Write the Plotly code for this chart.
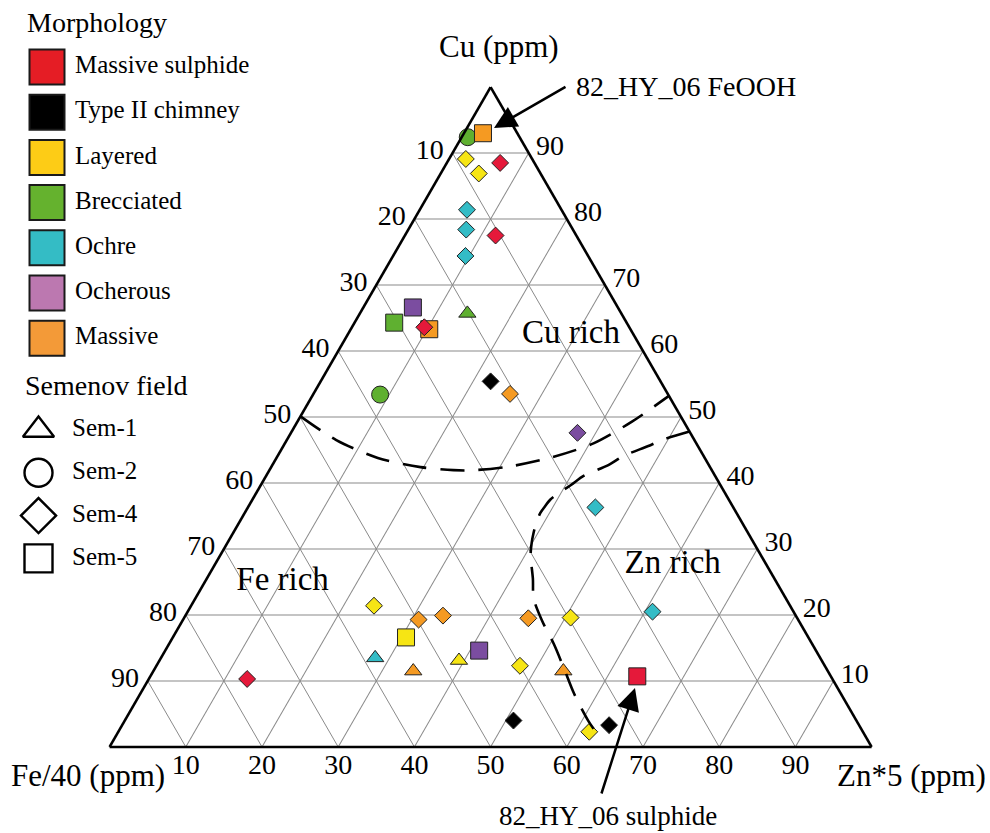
import plotly.graph_objects as go

# ---------------------------------------------------------------------------
# Sample compositions, normalised to 100: Cu, Zn*5 and Fe/40 (the remainder)
# ---------------------------------------------------------------------------
cu = [92.4, 93.0, 89.1, 88.5, 86.9, 81.4, 78.4, 77.5, 74.4, 66.6,
      65.7, 64.3, 63.6, 63.3, 53.4, 55.4, 53.5, 47.6, 36.3, 21.4,
      19.3, 16.6, 13.5, 11.5, 10.3, 19.9, 19.5, 19.6, 20.5, 13.1,
      14.6, 12.3, 11.5, 10.7, 4.0, 2.3, 3.3]
zn = [0.8, 2.5, 2.2, 7.0, 5.0, 6.2, 7.6, 11.9, 9.5, 6.5,
      14.1, 5.2, 9.5, 10.3, 8.8, 22.3, 25.8, 37.6, 45.6, 24.0,
      30.9, 30.6, 28.1, 34.1, 12.9, 33.8, 45.2, 50.7, 61.0, 39.3,
      41.2, 47.7, 53.8, 63.9, 51.0, 61.8, 63.9]
fe = [round(100 - a - c, 1) for a, c in zip(cu, zn)]

morphology = ["Brecciated", "Massive", "Layered", "Massive sulphide", "Layered",
              "Ochre", "Ochre", "Massive sulphide", "Ochre", "Ocherous",
              "Brecciated", "Brecciated", "Massive sulphide", "Massive", "Brecciated",
              "Type II chimney", "Massive", "Ocherous", "Ochre", "Layered",
              "Massive", "Layered", "Ochre", "Massive", "Massive sulphide",
              "Massive", "Massive", "Layered", "Ochre", "Layered",
              "Ocherous", "Layered", "Massive", "Massive sulphide", "Type II chimney",
              "Layered", "Type II chimney"]
semenov = ["Sem-2", "Sem-5", "Sem-4", "Sem-4", "Sem-4",
           "Sem-4", "Sem-4", "Sem-4", "Sem-4", "Sem-5",
           "Sem-1", "Sem-5", "Sem-4", "Sem-5", "Sem-2",
           "Sem-4", "Sem-4", "Sem-4", "Sem-4", "Sem-4",
           "Sem-4", "Sem-5", "Sem-1", "Sem-1", "Sem-4",
           "Sem-4", "Sem-4", "Sem-4", "Sem-4", "Sem-1",
           "Sem-5", "Sem-4", "Sem-1", "Sem-5", "Sem-4",
           "Sem-4", "Sem-4"]

# Legend categories
morph_names = ["Massive sulphide", "Type II chimney", "Layered", "Brecciated",
               "Ochre", "Ocherous", "Massive"]
swatch_colors = ["#E51D25", "#000000", "#FDCC16", "#65B22E", "#34BCC5", "#BC78B0", "#F39A38"]
marker_colors = {"Massive sulphide": "#E5193A", "Type II chimney": "#000000",
                 "Layered": "#F6E514", "Brecciated": "#5FB030", "Ochre": "#33BCC6",
                 "Ocherous": "#7B4DA0", "Massive": "#F59A22"}
sem_names = ["Sem-1", "Sem-2", "Sem-4", "Sem-5"]
sem_symbols = {"Sem-1": "triangle-up", "Sem-2": "circle", "Sem-4": "diamond", "Sem-5": "square"}
sem_sizes = {"Sem-1": 15, "Sem-2": 17, "Sem-4": 13, "Sem-5": 17}
draw_order = ["Brecciated", "Ochre", "Layered", "Ocherous", "Type II chimney",
              "Massive", "Massive sulphide"]

# Field boundaries (Cu, Zn*5)
bound1_cu = [50.1, 46.5, 43.8, 42.4, 41.9, 42.5, 43.9, 46.0, 49.3, 53.2]
bound1_zn = [0.0, 6.5, 13.3, 19.6, 25.7, 31.2, 36.1, 40.5, 43.9, 46.8]
bound2_cu = [47.8, 46.5, 45.6, 44.1, 42.7, 41.1, 39.7, 38.7, 37.5, 36.4, 35.5,
             34.0, 32.5, 31.0, 29.1, 25.5, 22.5, 19.0, 15.6, 12.0, 8.1, 4.0, 1.8]
bound2_zn = [52.2, 49.2, 47.9, 45.4, 44.1, 41.7, 40.7, 39.9, 39.1, 38.9, 38.8,
             39.0, 39.4, 39.9, 40.7, 42.8, 44.4, 47.3, 50.5, 53.6, 56.9, 60.8, 63.2]

# Field labels (Cu, Zn*5)
field_labels = ["Cu rich", "Fe rich", "Zn rich"]
field_cu = [62.5, 25.0, 27.6]
field_zn = [29.3, 10.2, 60.1]

grid_ticks = [10, 20, 30, 40, 50, 60, 70, 80, 90]

SERIF = "Liberation Serif"
W, H = 990, 833


def px(x):
    return x / W


def py(y):
    return 1 - y / H


fig = go.Figure()

# Samples, one trace per morphology
for name in draw_order:
    idx = [i for i, m in enumerate(morphology) if m == name]
    fig.add_trace(go.Scatterternary(
        a=[cu[i] for i in idx], b=[fe[i] for i in idx], c=[zn[i] for i in idx],
        mode="markers", cliponaxis=False, showlegend=False, name=name,
        marker=dict(color=marker_colors[name], opacity=1,
                    symbol=[sem_symbols[semenov[i]] for i in idx],
                    size=[sem_sizes[semenov[i]] for i in idx],
                    line=dict(color="#222222", width=1)),
    ))

# Dashed field boundaries
for bcu, bzn in [(bound1_cu, bound1_zn), (bound2_cu, bound2_zn)]:
    fig.add_trace(go.Scatterternary(
        a=bcu, b=[round(100 - a - c, 1) for a, c in zip(bcu, bzn)], c=bzn,
        mode="lines", cliponaxis=False, showlegend=False, hoverinfo="skip",
        line=dict(color="black", width=2.6, dash="24px,14px", shape="spline", smoothing=0.8),
    ))

# Field names
fig.add_trace(go.Scatterternary(
    a=field_cu, b=[round(100 - a - c, 1) for a, c in zip(field_cu, field_zn)], c=field_zn,
    mode="text", text=field_labels, showlegend=False, hoverinfo="skip",
    textfont=dict(family=SERIF, size=33, color="black"),
))

# Zn*5 scale written under the base of the triangle
fig.add_trace(go.Scatterternary(
    a=[0] * len(grid_ticks), b=[100 - v for v in grid_ticks], c=grid_ticks,
    mode="markers+text", text=[str(v) for v in grid_ticks], textposition="bottom center",
    marker=dict(size=8, opacity=0),
    cliponaxis=False, showlegend=False, hoverinfo="skip",
    textfont=dict(family=SERIF, size=28, color="black"),
))

axis_common = dict(
    min=0, tickmode="array", tickvals=grid_ticks,
    ticktext=[str(100 - v) for v in grid_ticks],
    showgrid=True, gridcolor="#8a8a8a", gridwidth=1,
    showline=True, linecolor="black", linewidth=2.6,
    ticks="outside", tickcolor="rgba(0,0,0,0)",
    tickfont=dict(family=SERIF, size=28, color="black"),
    title=dict(text=""),
)

fig.update_layout(
    width=W, height=H,
    margin=dict(l=0, r=0, t=0, b=0),
    paper_bgcolor="white", plot_bgcolor="rgba(0,0,0,0)",
    showlegend=False,
    ternary=dict(
        sum=100,
        domain=dict(x=[109.6 / W, 871.6 / W], y=[py(747), py(87)]),
        bgcolor="white",
        aaxis=dict(axis_common, ticklen=4),
        baxis=dict(axis_common, ticklen=2, showticklabels=False),
        caxis=dict(axis_common, ticklen=5),
    ),
    xaxis=dict(range=[0, W], domain=[0, 1], visible=False, fixedrange=True),
    yaxis=dict(range=[H, 0], domain=[0, 1], visible=False, fixedrange=True),
    font=dict(family=SERIF, color="black"),
)

# Titles at the three corners
fig.add_annotation(x=px(499), y=py(47), xref="paper", yref="paper", text="Cu (ppm)",
                   showarrow=False, xanchor="center", yanchor="middle",
                   font=dict(family=SERIF, size=31, color="black"))
fig.add_annotation(x=px(88), y=py(775), xref="paper", yref="paper", text="Fe/40 (ppm)",
                   showarrow=False, xanchor="center", yanchor="middle",
                   font=dict(family=SERIF, size=31, color="black"))
fig.add_annotation(x=px(911), y=py(775), xref="paper", yref="paper", text="Zn*5 (ppm)",
                   showarrow=False, xanchor="center", yanchor="middle",
                   font=dict(family=SERIF, size=31, color="black"))

# ---- key: morphology swatches ----
sw_y = [67 + 45.2 * i for i in range(len(morph_names))]
fig.add_trace(go.Scatter(
    x=[47] * len(morph_names), y=sw_y, mode="markers", showlegend=False, hoverinfo="skip",
    marker=dict(symbol="square", size=35, color=swatch_colors, line=dict(color="#1a1a1a", width=2)),
))
fig.add_trace(go.Scatter(
    x=[75] * len(morph_names), y=sw_y, mode="text", text=morph_names,
    textposition="middle right", showlegend=False, hoverinfo="skip",
    textfont=dict(family=SERIF, size=25, color="black"),
))

# ---- key: Semenov field symbols ----
sem_y = [430 + 42.8 * i for i in range(len(sem_names))]
fig.add_trace(go.Scatter(
    x=[38.5] * len(sem_names), y=sem_y, mode="markers", showlegend=False, hoverinfo="skip",
    marker=dict(symbol=[sem_symbols[s] for s in sem_names], size=[27, 28, 27, 28],
                color="white", opacity=1, line=dict(color="black", width=2.4)),
))
fig.add_trace(go.Scatter(
    x=[72] * len(sem_names), y=sem_y, mode="text", text=sem_names,
    textposition="middle right", showlegend=False, hoverinfo="skip",
    textfont=dict(family=SERIF, size=25, color="black"),
))

# Headings of the key
fig.add_annotation(x=px(25), y=py(22), xref="paper", yref="paper", text="Morphology",
                   showarrow=False, xanchor="left", yanchor="middle",
                   font=dict(family=SERIF, size=28, color="black"))
fig.add_annotation(x=px(23), y=py(385), xref="paper", yref="paper", text="Semenov field",
                   showarrow=False, xanchor="left", yanchor="middle",
                   font=dict(family=SERIF, size=28, color="black"))

# Call-outs for sample 82_HY_06
fig.add_annotation(x=px(574), y=py(87), xref="paper", yref="paper", text="82_HY_06 FeOOH",
                   showarrow=False, xanchor="left", yanchor="middle",
                   font=dict(family=SERIF, size=28, color="black"))
fig.add_annotation(x=px(494), y=py(128), xref="paper", yref="paper", text="",
                   showarrow=True, arrowhead=2, arrowsize=1.8, arrowwidth=2.5,
                   arrowcolor="black", ax=567 - 494, ay=86 - 128, axref="pixel", ayref="pixel")
fig.add_annotation(x=px(608), y=py(816), xref="paper", yref="paper", text="82_HY_06 sulphide",
                   showarrow=False, xanchor="center", yanchor="middle",
                   font=dict(family=SERIF, size=27, color="black"))
fig.add_annotation(x=px(635), y=py(688), xref="paper", yref="paper", text="",
                   showarrow=True, arrowhead=2, arrowsize=1.8, arrowwidth=2.5,
                   arrowcolor="black", ax=601 - 635, ay=795 - 688, axref="pixel", ayref="pixel")

fig.write_html("out.html")
